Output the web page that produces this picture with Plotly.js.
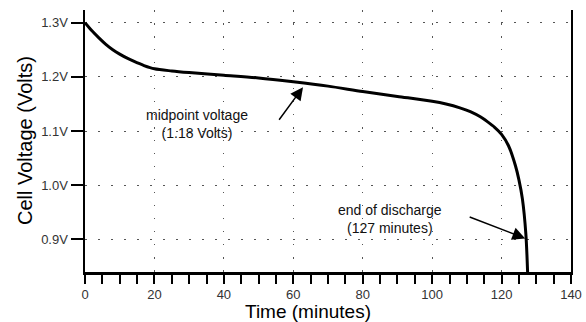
<!DOCTYPE html>
<html>
<head>
<meta charset="utf-8">
<script src="https://cdn.plot.ly/plotly-3.0.1.min.js"></script>
<style>html,body{margin:0;padding:0;background:#fff;}#chart{width:586px;height:322px;}</style>
</head>
<body>
<div id="chart"></div>
<script>
// Discharge curve (time in minutes, cell voltage in volts)
var timeMin = [0, 2, 4, 6, 8, 10, 12, 14, 17, 20, 25, 30, 40, 50, 60, 70, 80, 90, 100, 104, 108, 111, 114, 116, 118, 120, 122, 124, 125, 126, 127, 127.5];
var voltage = [1.300, 1.285, 1.272, 1.260, 1.250, 1.242, 1.235, 1.229, 1.221, 1.215, 1.211, 1.208, 1.203, 1.198, 1.191, 1.183, 1.173, 1.164, 1.155, 1.150, 1.143, 1.136, 1.126, 1.117, 1.107, 1.094, 1.073, 1.036, 1.010, 0.975, 0.910, 0.840];

var xTickVals = [0, 20, 40, 60, 80, 100, 120, 140];
var xTickText = ['0', '20', '40', '60', '80', '100', '120', '140'];
var yTickVals = [0.9, 1.0, 1.1, 1.2, 1.3];
var yTickText = ['0.9V', '1.0V', '1.1V', '1.2V', '1.3V'];

var xTitle = 'Time (minutes)';
var yTitle = 'Cell Voltage (Volts)';
var midLabel = 'midpoint voltage<br>(1.18 Volts)';
var endLabel = 'end of discharge<br>(127 minutes)';
var midPoint = {t: 62.8, v: 1.181};
var endPoint = {t: 126.8, v: 0.902};

var font = 'Liberation Sans, Arial, Helvetica, sans-serif';
var yRange = [0.84, 1.3235];

var trace = {
  x: timeMin, y: voltage, type: 'scatter', mode: 'lines',
  line: {color: '#000', width: 3, shape: 'spline', smoothing: 0.8},
  hoverinfo: 'skip', cliponaxis: true
};
var traceR = {x: [0], y: [1.0], yaxis: 'y2', type: 'scatter', mode: 'markers', marker: {opacity: 0}, hoverinfo: 'skip', showlegend: false};

var layout = {
  width: 586, height: 322,
  margin: {l: 85, r: 15, t: 10, b: 50},
  paper_bgcolor: '#fff', plot_bgcolor: '#fff',
  showlegend: false,
  font: {family: font, color: '#000'},
  xaxis: {
    range: [0, 140], tickvals: xTickVals, ticktext: xTickText,
    ticks: 'outside', ticklen: 9, tickwidth: 2, tickcolor: '#000',
    minor: {dtick: 5, tick0: 0, ticks: 'outside', ticklen: 9, tickwidth: 2, tickcolor: '#000', showgrid: false},
    showline: true, linewidth: 2.5, linecolor: '#000',
    showgrid: true, gridcolor: '#555', gridwidth: 1, griddash: '1.5px,11.5px',
    zeroline: false, fixedrange: true,
    tickfont: {family: font, size: 13, color: '#333'}
  },
  yaxis: {
    range: yRange, tickvals: yTickVals, ticktext: yTickText,
    ticks: 'outside', ticklen: 12, tickwidth: 2, tickcolor: '#000',
    showline: true, linewidth: 2.5, linecolor: '#000',
    showgrid: true, gridcolor: '#555', gridwidth: 1, griddash: '1.5px,11.5px',
    zeroline: false, fixedrange: true,
    tickfont: {family: font, size: 13, color: '#333'}
  },
  yaxis2: {
    range: yRange, overlaying: 'y', side: 'right',
    showline: true, linewidth: 1.5, linecolor: '#000',
    showticklabels: false, ticks: '', showgrid: false, zeroline: false, fixedrange: true
  },
  annotations: [
    {x: midPoint.t, y: midPoint.v, xref: 'x', yref: 'y', ax: -25, ay: 34, text: '', showarrow: true,
     arrowhead: 2, arrowsize: 1.7, arrowwidth: 1.5, arrowcolor: '#000', standoff: 0},
    {x: 32.3, y: 1.113, xref: 'x', yref: 'y', text: midLabel, showarrow: false,
     font: {family: font, size: 14, color: '#111'}, align: 'center'},
    {x: endPoint.t, y: endPoint.v, xref: 'x', yref: 'y', ax: -57, ay: -22, text: '', showarrow: true,
     arrowhead: 2, arrowsize: 1.7, arrowwidth: 1.5, arrowcolor: '#000', standoff: 0},
    {x: 87.9, y: 0.937, xref: 'x', yref: 'y', text: endLabel, showarrow: false,
     font: {family: font, size: 14, color: '#111'}, align: 'center'},
    {x: 64.3, y: 0, xref: 'x', yref: 'paper', yanchor: 'middle', yshift: -39, text: xTitle, showarrow: false,
     font: {family: font, size: 19, color: '#000'}},
    {x: 0, y: 0.5, xref: 'paper', yref: 'paper', xanchor: 'center', yanchor: 'middle', xshift: -60, textangle: -90,
     text: yTitle, showarrow: false, font: {family: font, size: 20, color: '#000'}}
  ]
};

Plotly.newPlot('chart', [trace, traceR], layout, {displayModeBar: false, staticPlot: true});
</script>
</body>
</html>
